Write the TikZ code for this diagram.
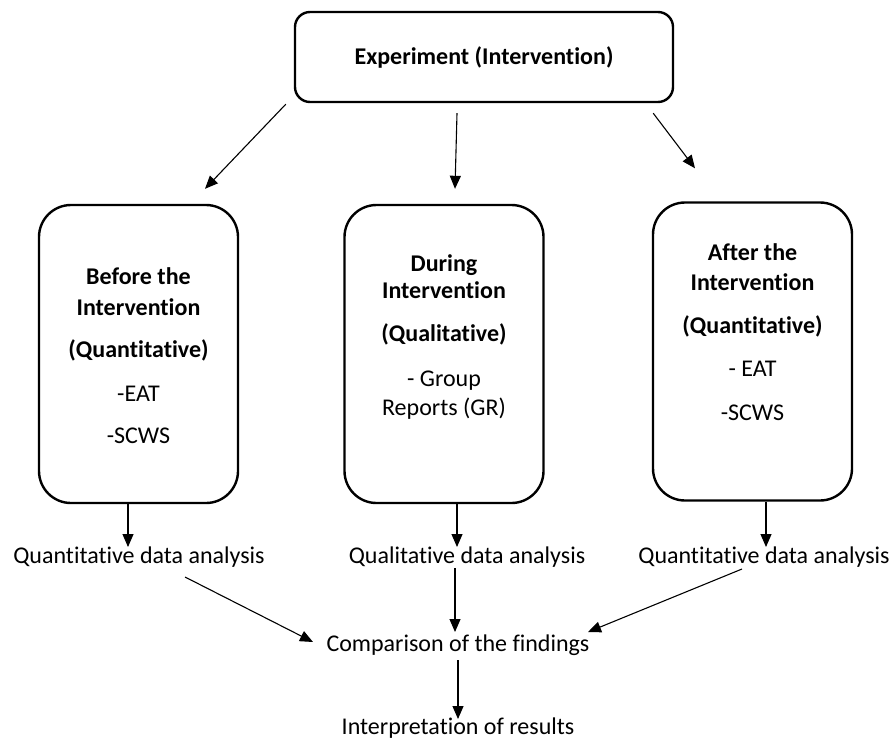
\documentclass[tikz,border=0pt]{standalone}
\usepackage{fontspec}
\setmainfont{Carlito}[Ligatures=NoCommon]
\usetikzlibrary{arrows.meta}
\begin{document}
\begin{tikzpicture}[x=1pt,y=-1pt,
  every node/.style={font=\fontsize{24pt}{29pt}\selectfont, inner sep=0pt},
  topbox/.style={draw, line width=2.4pt, rounded corners=15pt, minimum width=378pt, minimum height=90pt, font=\fontsize{24pt}{29pt}\selectfont\bfseries},
  tallbox/.style={draw, line width=2.4pt, rounded corners=32pt, minimum width=199pt, minimum height=298pt},
  bl/.style={anchor=base, font=\fontsize{24pt}{29pt}\selectfont\bfseries},
  rl/.style={anchor=base},
  arr/.style={line width=1.1pt, -{Triangle[length=13pt,width=11pt]}}
]
\useasboundingbox (0,0) rectangle (893,742);
\fill[white] (0,0) rectangle (893,742);

% top box
\node[topbox] (top) at (484,57) {Experiment (Intervention)};

% three boxes
\node[tallbox] (before) at (138.5,354) {};
\node[tallbox] (during) at (444,354) {};
\node[tallbox] (after) at (752.5,351.5) {};

% before texts
\node[bl] (b1) at (138.5,284) {Before the};
\node[bl] (b2) at (138.5,315) {Intervention};
\node[bl] (b3) at (138.5,357) {(Quantitative)};
\node[rl] (b4) at (138.5,401) {-EAT};
\node[rl] (b5) at (138.5,443) {-SCWS};

% during texts
\node[bl] (d1) at (444,271) {During};
\node[bl] (d2) at (444,298) {Intervention};
\node[bl] (d3) at (444,341) {(Qualitative)};
\node[rl] (d4) at (444,386) {- Group};
\node[rl] (d5) at (444,415) {Reports (GR)};

% after texts
\node[bl] (a1) at (752.5,260) {After the};
\node[bl] (a2) at (752.5,290) {Intervention};
\node[bl] (a3) at (752.5,333) {(Quantitative)};
\node[rl] (a4) at (752.5,376) {- EAT};
\node[rl] (a5) at (752.5,420) {-SCWS};

% analysis texts
\node[rl] (qa1) at (139,563) {Quantitative data analysis};
\node[rl] (ql) at (467,563) {Qualitative data analysis};
\node[rl] (qa2) at (764,563) {Quantitative data analysis};
\node[rl] (comp) at (458,651) {Comparison of the findings};
\node[rl] (interp) at (458,734) {Interpretation of results};

% arrows from top box
\draw[arr] ([shift={(-8,1)}]top.south west) -- ([shift={(66.5,-15)}]before.north);
\draw[arr] ([shift={(-27,10)}]top.south) -- ([shift={(11,-15)}]during.north);
\draw[arr] ([shift={(-21,10)}]top.south east) -- ([shift={(-57.5,-33)}]after.north);

% boxes to analysis
\draw[arr] ([shift={(-10.5,0)}]before.south) -- ([shift={(-11,-16)}]qa1.base);
\draw[arr] ([shift={(13,0)}]during.south) -- ([shift={(-10,-16)}]ql.base);
\draw[arr] ([shift={(13.5,0)}]after.south) -- ([shift={(2,-16)}]qa2.base);

% analysis to comparison
\draw[arr] ([shift={(46,14)}]qa1.base) -- ([shift={(-145,-9)}]comp.base);
\draw[arr] ([shift={(-12,5)}]ql.base) -- ([shift={(-3,-19)}]comp.base);
\draw[arr] ([shift={(-22,6)}]qa2.base) -- ([shift={(130,-19)}]comp.base);

% comparison to interpretation
\draw[arr] ([shift={(0,9)}]comp.base) -- ([shift={(0,-15)}]interp.base);
\end{tikzpicture}
\end{document}
